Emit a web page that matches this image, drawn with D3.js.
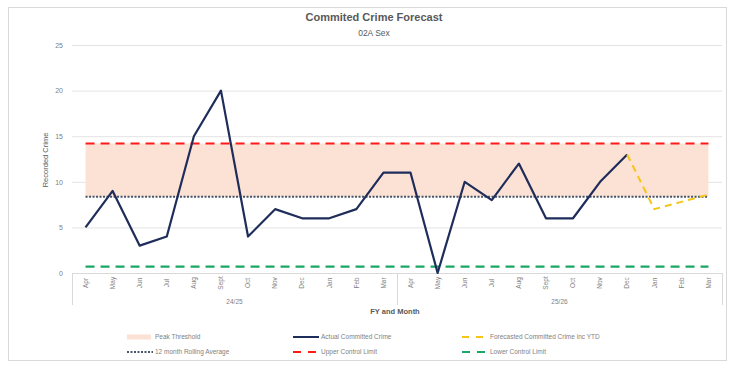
<!DOCTYPE html>
<html><head><meta charset="utf-8">
<script src="https://cdn.jsdelivr.net/npm/d3@7/dist/d3.min.js"></script>
<style>body{margin:0;background:#fff;}svg{display:block;font-family:"Liberation Sans",Arial,sans-serif;}</style>
</head><body><svg id="c" width="731" height="368"></svg>
<script>
const months = ["Apr","May","Jun","Jul","Aug","Sept","Oct","Nov","Dec","Jan","Feb","Mar"];
const fiscalYears = ["24/25","25/26"];
const actual = [5,9,3,4,15,20,4,7,6,6,7,11, 11,0,10,8,12,6,6,10,13];
const forecastStart = 20;
const forecast = [13,7,7.8,8.6];
const rollingAverage = 8.35;
const upperControl = 14.2;
const lowerControl = 0.7;
const yTicks = [0,5,10,15,20,25];

const svg = d3.select("#c");
const W = 731, H = 368;
const m = {l:72, r:9, t:45, b:95};
const cats = [];
fiscalYears.forEach((fy,fi)=>months.forEach((mo,mi)=>cats.push({fy,mo,i:fi*12+mi})));

const x = d3.scaleBand().domain(cats.map(d=>d.i)).range([72,722]).padding(0);
const cx = i => x(i) + x.bandwidth()/2;
const y = d3.scaleLinear().domain([0,25]).range([273,45]);

// frame
svg.append("rect").attr("x",8.5).attr("y",7.5).attr("width",718).attr("height",353)
  .attr("fill","#fff").attr("stroke","#d9d9d9");

// title
svg.append("text").attr("x",374).attr("y",21).attr("text-anchor","middle")
  .attr("font-size",11).attr("font-weight","bold").attr("fill","#595959").text("Commited Crime Forecast");
svg.append("text").attr("x",374).attr("y",36).attr("text-anchor","middle")
  .attr("font-size",8.5).attr("fill","#595959").text("02A Sex");

// grid
const yAxis = d3.axisLeft(y).tickValues(yTicks).tickSize(-(722-72)).tickPadding(9);
const gy = svg.append("g").attr("transform","translate(72,0)").call(yAxis);
gy.select(".domain").remove();
gy.selectAll(".tick line").attr("stroke","#e3e3e3");
gy.selectAll(".tick text").attr("fill","#7f7f7f").attr("font-size",7);

// y title
svg.append("text").attr("transform","translate(48,160) rotate(-90)").attr("text-anchor","middle")
  .attr("font-size",7.5).attr("fill","#595959").text("Recorded Crime");

const x0 = cx(0), x1 = cx(cats.length-1);

// band
svg.append("rect").attr("x",x0).attr("y",y(upperControl)).attr("width",x1-x0)
  .attr("height",y(rollingAverage)-y(upperControl)).attr("fill","#fce2d4");

// control lines
function hline(v,color,dash,w){
  svg.append("line").attr("x1",x0).attr("x2",x1).attr("y1",y(v)).attr("y2",y(v))
    .attr("stroke",color).attr("stroke-width",w).attr("stroke-dasharray",dash);
}
hline(upperControl,"#ff1a1a","9,6",2.2);
hline(lowerControl,"#1aa664","9,6",2.2);
hline(rollingAverage,"#44546a","2,1.5",2);

// x axis
svg.append("line").attr("x1",72).attr("x2",722).attr("y1",273.5).attr("y2",273.5).attr("stroke","#d9d9d9");
[72,397,722].forEach(v=>svg.append("line").attr("x1",v+0.5).attr("x2",v+0.5).attr("y1",273).attr("y2",305).attr("stroke","#d9d9d9"));
const xAxis = d3.axisBottom(x).tickSize(0).tickFormat(i=>cats[i].mo);
const gx = svg.append("g").attr("transform","translate(0,273)").call(xAxis);
gx.select(".domain").remove();
gx.selectAll(".tick text").attr("fill","#7f7f7f").attr("font-size",6.5)
  .attr("text-anchor","middle").attr("transform","translate(0,10) rotate(-90)").attr("dy","0.35em").attr("y",0).attr("x",0);
fiscalYears.forEach((fy,fi)=>{
  const a = x(fi*12), b = x(fi*12+11)+x.bandwidth();
  svg.append("text").attr("x",(a+b)/2).attr("y",304).attr("text-anchor","middle")
    .attr("font-size",6.5).attr("fill","#7f7f7f").text(fy);
});
svg.append("text").attr("x",395).attr("y",314).attr("text-anchor","middle")
  .attr("font-size",7.5).attr("font-weight","bold").attr("fill","#595959").text("FY and Month");

// lines
const line = d3.line().x(d=>cx(d.i)).y(d=>y(d.v));
svg.append("path").datum(actual.map((v,i)=>({i,v}))).attr("d",line)
  .attr("fill","none").attr("stroke","#1f2d5a").attr("stroke-width",2.2).attr("stroke-linejoin","round");
svg.append("path").datum(forecast.map((v,k)=>({i:forecastStart+k,v}))).attr("d",line)
  .attr("fill","none").attr("stroke","#f5c518").attr("stroke-width",2).attr("stroke-dasharray","7,5");

// legend
const lg = svg.append("g").attr("font-size",6.5).attr("fill","#7f7f7f");
const items = [
  {t:"Peak Threshold",x:127,y:337,type:"rect",c:"#fce2d4"},
  {t:"Actual Committed Crime",x:293,y:337,type:"line",c:"#1f2d5a",d:null},
  {t:"Forecasted Committed Crime inc YTD",x:462,y:337,type:"line",c:"#f5c518",d:"7,7"},
  {t:"12 month Rolling Average",x:127,y:352,type:"line",c:"#44546a",d:"2,1.5"},
  {t:"Upper Control Limit",x:293,y:352,type:"line",c:"#ff1a1a",d:"8,7"},
  {t:"Lower Control Limit",x:462,y:352,type:"line",c:"#1aa664",d:"8,7"}
];
items.forEach(it=>{
  if(it.type==="rect"){
    lg.append("rect").attr("x",it.x).attr("y",it.y-2.5).attr("width",24).attr("height",5).attr("fill",it.c);
  } else {
    lg.append("line").attr("x1",it.x).attr("x2",it.x+26).attr("y1",it.y).attr("y2",it.y)
      .attr("stroke",it.c).attr("stroke-width",2).attr("stroke-dasharray",it.d);
  }
  lg.append("text").attr("x",it.x+28).attr("y",it.y).attr("dy","0.35em").text(it.t);
});
</script></body></html>
